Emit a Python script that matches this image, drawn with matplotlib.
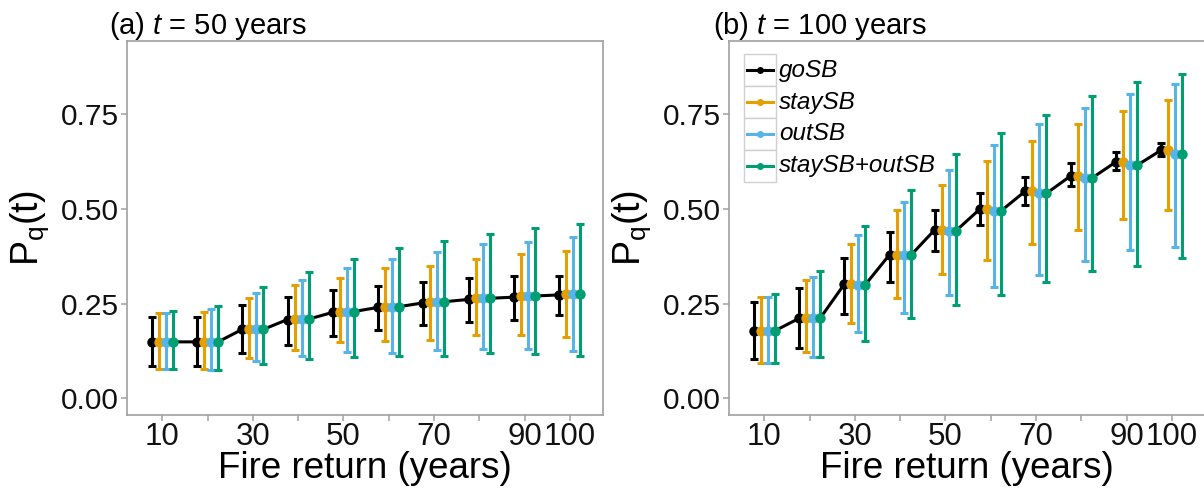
import numpy as np
import matplotlib
matplotlib.use('Agg')
from matplotlib import pyplot as plt
from matplotlib.patches import Rectangle
from matplotlib.lines import Line2D

plt.rcParams['font.family'] = ['Liberation Sans', 'DejaVu Sans']
plt.rcParams['mathtext.fontset'] = 'custom'
plt.rcParams['mathtext.rm'] = 'Liberation Sans'
plt.rcParams['mathtext.it'] = 'Liberation Sans:italic'

## fire return categories and tick labels
fire_return = [10, 20, 30, 40, 50, 60, 70, 80, 90, 100]
tick_labels = ['10', '', '30', '', '50', '', '70', '', '90', '100']
series_names = ['goSB', 'staySB', 'outSB', 'staySB+outSB']
series_colors = ['#000000', '#E69F00', '#56B4E9', '#009E73']

## panel (a) t = 50 years : mean, lower, upper
a_go_mid = [0.149, 0.149, 0.182, 0.208, 0.227, 0.240, 0.252, 0.261, 0.267, 0.273]
a_go_lo = [0.085, 0.085, 0.119, 0.141, 0.165, 0.180, 0.193, 0.201, 0.206, 0.221]
a_go_hi = [0.215, 0.214, 0.246, 0.267, 0.286, 0.296, 0.307, 0.317, 0.322, 0.323]
a_stay_mid = [0.149, 0.149, 0.182, 0.209, 0.229, 0.242, 0.255, 0.264, 0.270, 0.275]
a_stay_lo = [0.078, 0.078, 0.107, 0.128, 0.148, 0.150, 0.154, 0.167, 0.167, 0.163]
a_stay_hi = [0.226, 0.228, 0.264, 0.298, 0.318, 0.343, 0.350, 0.368, 0.380, 0.389]
a_out_mid = [0.149, 0.149, 0.182, 0.209, 0.229, 0.242, 0.255, 0.264, 0.270, 0.275]
a_out_lo = [0.078, 0.075, 0.099, 0.112, 0.121, 0.120, 0.128, 0.131, 0.129, 0.124]
a_out_hi = [0.224, 0.235, 0.277, 0.312, 0.343, 0.367, 0.385, 0.407, 0.413, 0.427]
a_both_mid = [0.149, 0.149, 0.182, 0.209, 0.229, 0.242, 0.255, 0.264, 0.270, 0.275]
a_both_lo = [0.077, 0.075, 0.090, 0.105, 0.108, 0.112, 0.112, 0.119, 0.117, 0.113]
a_both_hi = [0.231, 0.244, 0.293, 0.334, 0.369, 0.398, 0.415, 0.434, 0.450, 0.459]

## panel (b) t = 100 years
b_go_mid = [0.178, 0.211, 0.301, 0.379, 0.445, 0.500, 0.547, 0.587, 0.624, 0.655]
b_go_lo = [0.105, 0.134, 0.222, 0.308, 0.390, 0.457, 0.511, 0.560, 0.602, 0.640]
b_go_hi = [0.255, 0.291, 0.370, 0.438, 0.496, 0.541, 0.585, 0.620, 0.649, 0.673]
b_stay_mid = [0.178, 0.211, 0.301, 0.379, 0.445, 0.500, 0.547, 0.587, 0.624, 0.655]
b_stay_lo = [0.094, 0.123, 0.198, 0.266, 0.328, 0.364, 0.406, 0.445, 0.472, 0.498]
b_stay_hi = [0.267, 0.313, 0.406, 0.498, 0.562, 0.625, 0.678, 0.723, 0.759, 0.788]
b_out_mid = [0.178, 0.211, 0.300, 0.379, 0.442, 0.495, 0.541, 0.581, 0.615, 0.644]
b_out_lo = [0.094, 0.109, 0.174, 0.224, 0.273, 0.295, 0.326, 0.363, 0.392, 0.399]
b_out_hi = [0.267, 0.320, 0.430, 0.518, 0.602, 0.669, 0.723, 0.766, 0.803, 0.830]
b_both_mid = [0.178, 0.211, 0.300, 0.377, 0.442, 0.495, 0.541, 0.581, 0.615, 0.644]
b_both_lo = [0.092, 0.109, 0.152, 0.213, 0.246, 0.273, 0.308, 0.337, 0.350, 0.370]
b_both_hi = [0.275, 0.337, 0.456, 0.551, 0.644, 0.700, 0.747, 0.799, 0.834, 0.856]

panel_a = [(a_go_mid, a_go_lo, a_go_hi), (a_stay_mid, a_stay_lo, a_stay_hi),
           (a_out_mid, a_out_lo, a_out_hi), (a_both_mid, a_both_lo, a_both_hi)]
panel_b = [(b_go_mid, b_go_lo, b_go_hi), (b_stay_mid, b_stay_lo, b_stay_hi),
           (b_out_mid, b_out_lo, b_out_hi), (b_both_mid, b_both_lo, b_both_hi)]

dodge = [-0.233, -0.078, 0.078, 0.233]
border = '#a0a0a0'

W, H = 1204, 490
fig = plt.figure(figsize=(W / 100, H / 100), dpi=100)


def px_box(x0, y0, x1, y1):
    return [x0 / W, 1 - y1 / H, (x1 - x0) / W, (y1 - y0) / H]


def draw_panel(ax, data):
    idx = np.arange(1, len(fire_return) + 1)
    all_x, all_y = [], []
    for k, (mid, lo, hi) in enumerate(data):
        mid = np.array(mid)
        xs = idx + dodge[k]
        yerr = [mid - np.array(lo), np.array(hi) - mid]
        ax.errorbar(xs, mid, yerr=yerr, fmt='none', ecolor=series_colors[k],
                    elinewidth=2.2, capsize=2.9, capthick=2.2, zorder=2)
        all_x.extend(xs)
        all_y.extend(mid)
    order = np.argsort(all_x)
    ax.plot(np.array(all_x)[order], np.array(all_y)[order], color='black',
            linewidth=2.2, zorder=3)
    for k, (mid, lo, hi) in enumerate(data):
        ax.plot(idx + dodge[k], mid, 'o', color=series_colors[k],
                markersize=7.5, markeredgewidth=0, zorder=4)

    ax.set_xlim(1 - 35 / 45, 10 + 33 / 45)
    ax.set_ylim(-0.044, 0.943)
    ax.set_xticks(idx)
    ax.set_xticklabels(tick_labels)
    ax.set_yticks([0.0, 0.25, 0.5, 0.75])
    ax.set_yticklabels(['0.00', '0.25', '0.50', '0.75'])
    ax.tick_params(axis='both', length=4, width=1.1,
                   color=border, labelcolor='#111111', pad=2)
    ax.tick_params(axis='y', labelsize=21.5)
    ax.tick_params(axis='x', labelsize=22.5, pad=1)
    for s in ax.spines.values():
        s.set_color(border)
        s.set_linewidth(1.2)
    ax.set_xlabel('Fire return (years)', fontsize=26.5)
    ax.set_ylabel(r'$\mathregular{P_q(t)}$', fontsize=27)
    ax.xaxis.set_label_coords(0.5, -0.097)
    ax.yaxis.set_label_coords(-0.16, 0.5)


ax_a = fig.add_axes(px_box(127, 41, 603, 415))
ax_b = fig.add_axes(px_box(729, 41, 1205, 415))
draw_panel(ax_a, panel_a)
draw_panel(ax_b, panel_b)

fig.text(109 / W, 1 - 34 / H, r'(a) $t$ = 50 years', fontsize=21, va='baseline')
fig.text(713 / W, 1 - 34 / H, r'(b) $t$ = 100 years', fontsize=21, va='baseline')

## legend in panel (b), drawn with gray key boxes
row_h = 31.85
for k, name in enumerate(series_names):
    top = 54.3 + k * row_h
    cy = top + row_h / 2
    fig.patches.append(Rectangle((744 / W, 1 - (top + row_h) / H), 32 / W, row_h / H,
                                 transform=fig.transFigure, facecolor='white',
                                 edgecolor='#d0d0d0', linewidth=1.0, zorder=5))
    fig.lines.append(Line2D([747 / W, 773 / W], [1 - cy / H, 1 - cy / H],
                            transform=fig.transFigure, color=series_colors[k],
                            linewidth=2.2, zorder=6))
    fig.lines.append(Line2D([760 / W], [1 - cy / H], transform=fig.transFigure,
                            color=series_colors[k], marker='o', markersize=5,
                            markeredgewidth=0, linestyle='none', zorder=7))
    fig.text(779 / W, 1 - cy / H, name, fontsize=17.5, style='italic',
             va='center', ha='left', zorder=8)

fig.savefig('out.png', dpi=100)
